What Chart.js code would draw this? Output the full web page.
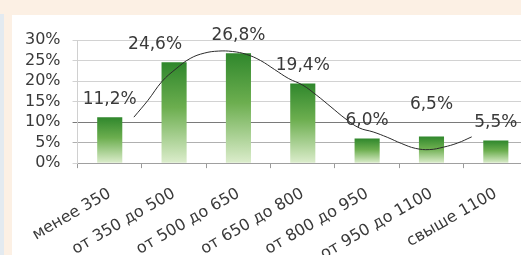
<!DOCTYPE html>
<html>
<head>
<meta charset="utf-8">
<script src="https://cdn.jsdelivr.net/npm/chart.js@4.4.0/dist/chart.umd.min.js"></script>
<style>
  html, body { margin: 0; padding: 0; }
  body { width: 521px; height: 255px; overflow: hidden; background: #fcf0e4; position: relative; }
  #edge { position: absolute; left: 0; top: 14px; width: 4px; height: 241px; background: #e3eaf0; }
  #wrap { position: absolute; left: 12px; top: 15px; width: 526px; height: 240px; background: #fff; overflow: hidden; }
  #box { position: absolute; left: -10px; top: 0; width: 536px; height: 265px; }
</style>
</head>
<body>
<div id="edge"></div>
<div id="wrap"><div id="box"><canvas id="chart"></canvas></div></div>
<script>
const categories = ["менее 350", "от 350 до 500", "от 500 до 650", "от 650 до 800", "от 800 до 950", "от 950 до 1100", "свыше 1100"];
const shares = [11.2, 24.6, 26.8, 19.4, 6.0, 6.5, 5.5];
const yTicks = [0, 5, 10, 15, 20, 25, 30];

// trend curve (x in category units)
const trendX = [0, 0.25, 0.5, 0.75, 1, 1.25, 1.5, 1.75, 2, 2.25, 2.5, 2.75, 3, 3.25, 3.5, 3.75, 4, 4.25, 4.5, 4.75, 5, 5.25, 5.5, 5.75, 6];
const trendY = [11.2, 15.3, 19.9, 23.0, 25.5, 26.8, 27.3, 27.2, 26.5, 25.0, 22.8, 20.6, 19.0, 16.5, 13.7, 10.9, 8.6, 7.6, 6.3, 4.8, 3.6, 3.3, 3.9, 4.9, 6.4];

const fontFamily = "'DejaVu Sans', sans-serif";
const textColor = "#3a3a3a";

// small hand nudges of the value labels, like in the source
const labelNudge = { 1: [-19, 0], 5: [0, -14] };

function barFill(context) {
  const chart = context.chart;
  const y = chart.scales.y;
  if (!chart.chartArea || !y || context.parsed == null) return "#5aa03c";
  const top = y.getPixelForValue(context.parsed.y);
  const base = y.getPixelForValue(0);
  const g = chart.ctx.createLinearGradient(0, top, 0, base);
  g.addColorStop(0, "#2f872c");
  g.addColorStop(0.45, "#6cae4f");
  g.addColorStop(1, "#dcedcc");
  return g;
}

const valueLabels = {
  id: "valueLabels",
  afterDatasetsDraw(chart) {
    const ctx = chart.ctx;
    const meta = chart.getDatasetMeta(0);
    ctx.save();
    ctx.font = "17px " + fontFamily;
    ctx.fillStyle = textColor;
    ctx.textAlign = "center";
    ctx.textBaseline = "middle";
    meta.data.forEach((bar, i) => {
      const n = labelNudge[i] || [0, 0];
      const txt = shares[i].toFixed(1).replace(".", ",") + "%";
      ctx.fillText(txt, bar.x + n[0], bar.y - 18 + n[1]);
    });
    ctx.restore();
  }
};

new Chart(document.getElementById("chart"), {
  type: "bar",
  data: {
    labels: categories,
    datasets: [
      {
        data: shares,
        backgroundColor: barFill,
        borderWidth: 0,
        grouped: false,
        categoryPercentage: 1,
        barPercentage: 0.39,
        order: 2
      },
      {
        type: "line",
        data: trendX.map((x, i) => ({ x: x, y: trendY[i] })),
        xAxisID: "x2",
        borderColor: "#2b2b2b",
        borderWidth: 1,
        pointRadius: 0,
        tension: 0.4,
        fill: false,
        order: 1
      }
    ]
  },
  options: {
    responsive: true,
    maintainAspectRatio: false,
    animation: false,
    layout: { padding: { left: 11, top: 25, right: 10, bottom: 0 } },
    plugins: { legend: { display: false }, tooltip: { enabled: false } },
    scales: {
      x: {
        grid: { display: true, drawOnChartArea: false, drawTicks: true, tickLength: 5, color: "#9a9a9a", offset: true },
        border: { color: "#a0a0a0" },
        ticks: {
          color: textColor,
          font: { family: fontFamily, size: 16 },
          minRotation: 30,
          maxRotation: 30,
          autoSkip: false,
          padding: 16
        }
      },
      x2: {
        type: "linear",
        min: -0.5,
        max: 6.5,
        display: false
      },
      y: {
        min: 0,
        max: 30,
        afterBuildTicks: (axis) => { axis.ticks = yTicks.map(v => ({ value: v })); },
        grid: {
          color: (c) => c.tick && c.tick.value === 10 ? "#7a7a7a" : (c.tick && c.tick.value === 5 ? "#b0b0b0" : "#d2d2d2"),
          tickLength: 5
        },
        border: { color: "#d0d0d0" },
        ticks: {
          color: textColor,
          font: { family: fontFamily, size: 16 },
          padding: 12,
          autoSkip: false,
          callback: (v) => v + "%"
        }
      }
    }
  },
  plugins: [valueLabels]
});
</script>
</body>
</html>
